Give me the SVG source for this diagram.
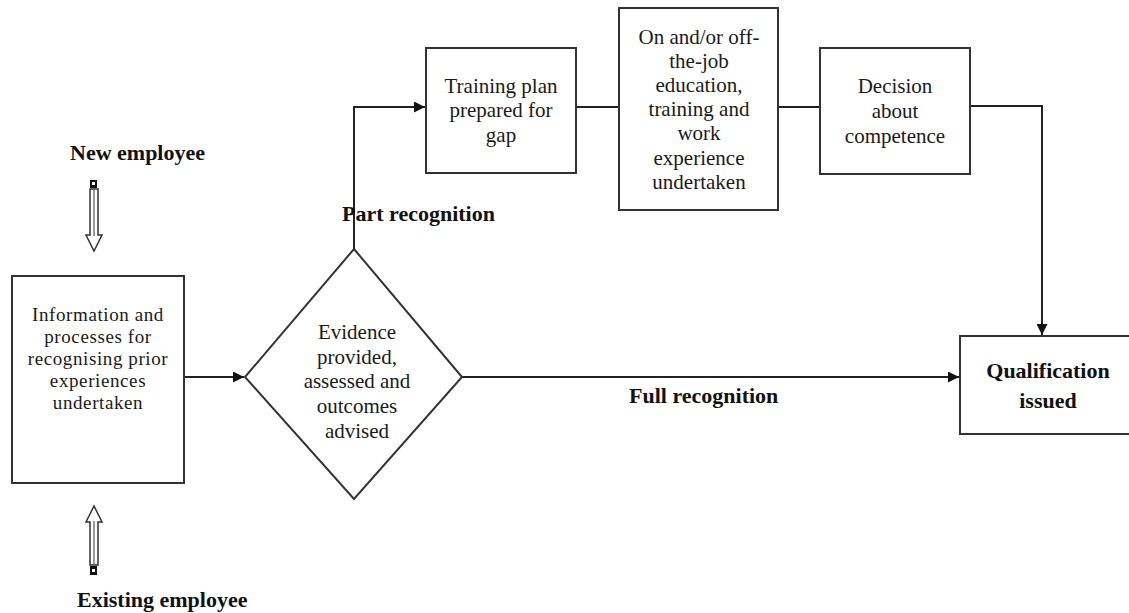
<svg xmlns="http://www.w3.org/2000/svg" width="1129" height="613" viewBox="0 0 1129 613">
<style>
  .box { fill: #ffffff; stroke: #333333; stroke-width: 2; }
  .t { font-family: "Liberation Serif", "Times New Roman", serif; font-size: 21px; fill: #1a1a1a; text-anchor: middle; }
  .s { font-size: 19px; letter-spacing: 0.6px; }
  .b { font-family: "Liberation Serif", "Times New Roman", serif; font-size: 22px; font-weight: bold; fill: #111111; }
  .c { fill: none; stroke: #222222; stroke-width: 2; }
  .hollow { fill: #ffffff; stroke: #333333; stroke-width: 1.5; }
</style>
<defs>
  <marker id="ah" viewBox="0 0 10 10" refX="10" refY="5" markerWidth="5.5" markerHeight="5.5" markerUnits="strokeWidth" orient="auto">
    <path d="M0,0 L10,5 L0,10 Z" fill="#111111"/>
  </marker>
</defs>
<rect width="1129" height="613" fill="#ffffff"/>

<g id="connectors">
  <path class="c" d="M184,377 L244,377" marker-end="url(#ah)"/>
  <path class="c" d="M354,249 L354,107 L425,107" marker-end="url(#ah)"/>
  <path class="c" d="M576,107 L619,107"/>
  <path class="c" d="M778,107 L820,107"/>
  <path class="c" d="M970,106 L1042,106 L1042,335" marker-end="url(#ah)"/>
  <path class="c" d="M462,377 L959,377" marker-end="url(#ah)"/>
</g>

<g id="new-employee">
  <text class="b" x="70" y="160">New employee</text>
  <rect x="90" y="180" width="7" height="8" fill="#111111"/>
  <rect x="92" y="182" width="3" height="3" fill="#ffffff"/>
  <path class="hollow" d="M90,189 L98,189 L98,235 L102,235 L94,251 L86,235 L90,235 Z"/>
  <line x1="94" y1="190" x2="94" y2="236" stroke="#999999" stroke-width="2"/>
</g>

<g id="existing-employee">
  <text class="b" x="77" y="607">Existing employee</text>
  <path class="hollow" d="M90,565 L98,565 L98,522 L102,522 L94,506 L86,522 L90,522 Z"/>
  <line x1="94" y1="521" x2="94" y2="564" stroke="#999999" stroke-width="2"/>
  <rect x="90" y="566" width="7" height="9" fill="#111111"/>
  <rect x="92" y="569" width="3" height="3" fill="#ffffff"/>
</g>

<g id="info-box">
  <rect class="box" x="12" y="276" width="172" height="207"/>
  <text class="t s" x="98" y="321">Information and</text>
  <text class="t s" x="98" y="343">processes for</text>
  <text class="t s" x="98" y="365">recognising prior</text>
  <text class="t s" x="98" y="387">experiences</text>
  <text class="t s" x="98" y="409">undertaken</text>
</g>

<g id="evidence-diamond">
  <path class="box" d="M354,249 L462,377 L354,499 L245,377 Z"/>
  <text class="t" x="357" y="339">Evidence</text>
  <text class="t" x="357" y="364">provided,</text>
  <text class="t" x="357" y="388">assessed and</text>
  <text class="t" x="357" y="413">outcomes</text>
  <text class="t" x="357" y="438">advised</text>
</g>

<g id="training-plan">
  <rect class="box" x="426" y="48" width="150" height="125"/>
  <text class="t" x="501" y="93">Training plan</text>
  <text class="t" x="501" y="117">prepared for</text>
  <text class="t" x="501" y="142">gap</text>
</g>

<g id="education">
  <rect class="box" x="619" y="8" width="159" height="202"/>
  <text class="t" x="699" y="44">On and/or off-</text>
  <text class="t" x="699" y="68">the-job</text>
  <text class="t" x="699" y="92">education,</text>
  <text class="t" x="699" y="116">training and</text>
  <text class="t" x="699" y="140">work</text>
  <text class="t" x="699" y="165">experience</text>
  <text class="t" x="699" y="189">undertaken</text>
</g>

<g id="decision">
  <rect class="box" x="820" y="48" width="150" height="126"/>
  <text class="t" x="895" y="93">Decision</text>
  <text class="t" x="895" y="118">about</text>
  <text class="t" x="895" y="143">competence</text>
</g>

<g id="qualification">
  <rect class="box" x="960" y="336" width="172" height="98"/>
  <text class="b" x="1048" y="378" text-anchor="middle">Qualification</text>
  <text class="b" x="1048" y="408" text-anchor="middle">issued</text>
</g>

<g id="labels">
  <text class="b" x="342" y="221">Part recognition</text>
  <text class="b" x="629" y="403">Full recognition</text>
</g>
</svg>
